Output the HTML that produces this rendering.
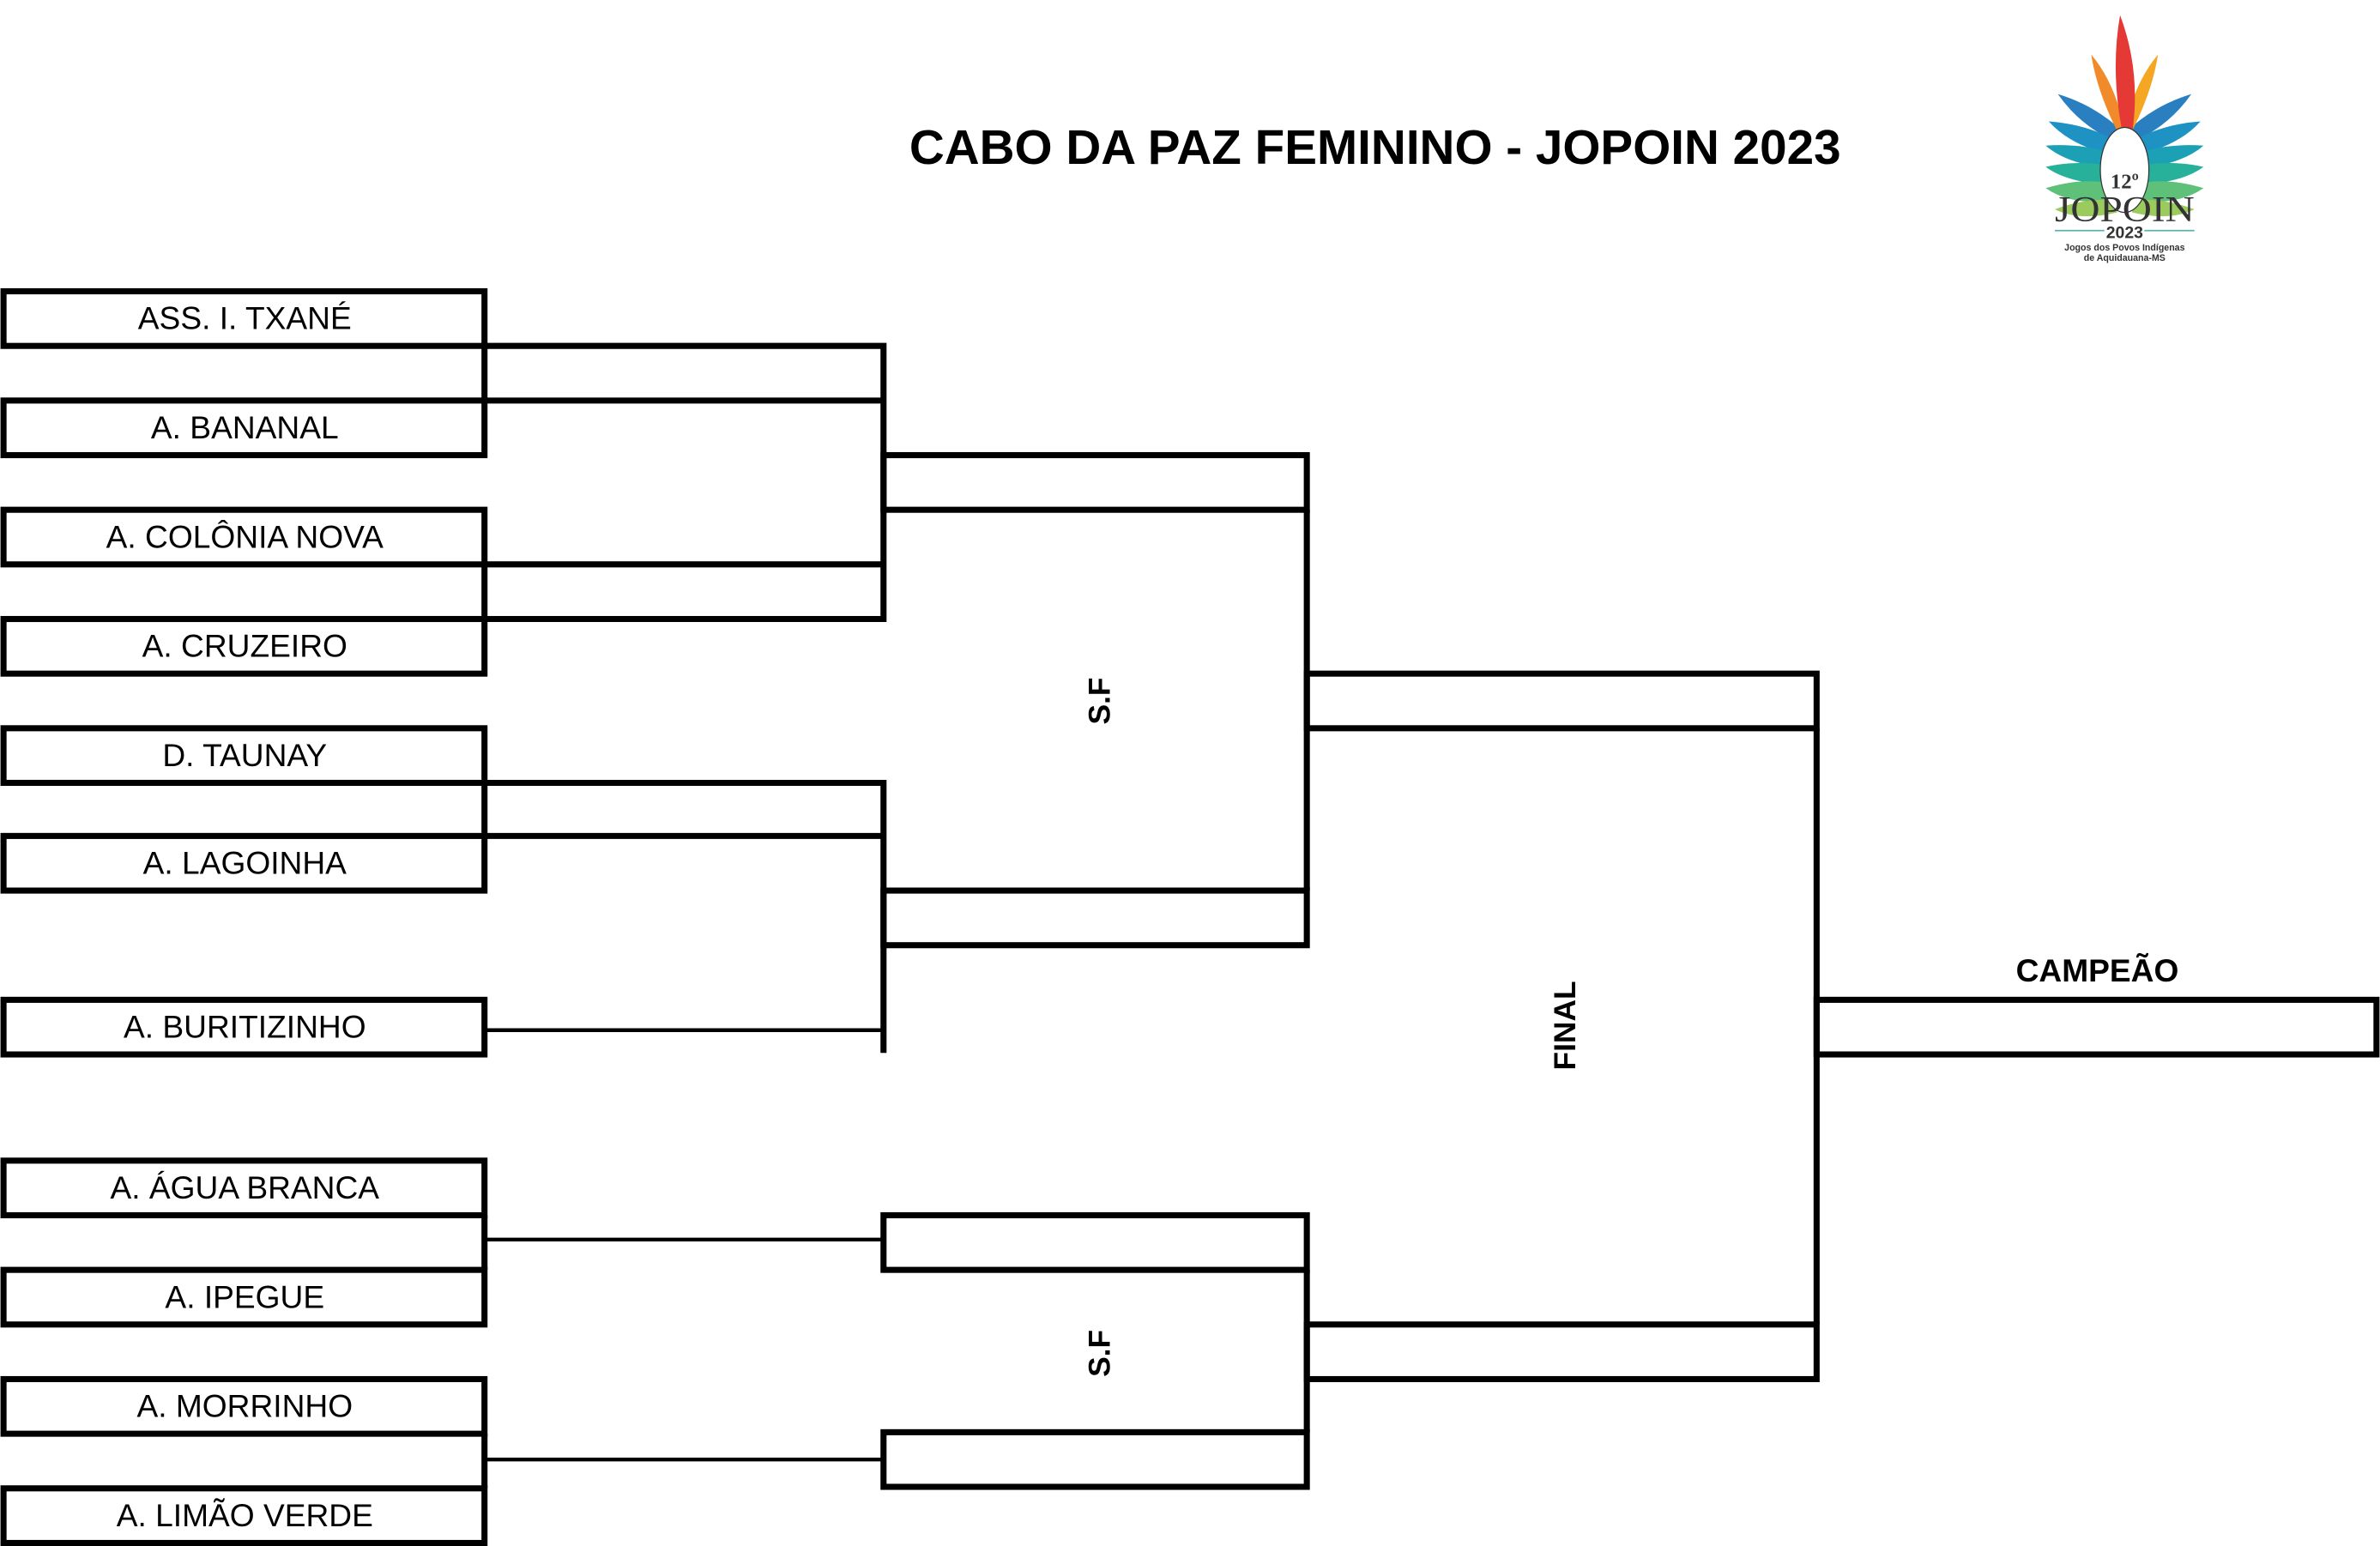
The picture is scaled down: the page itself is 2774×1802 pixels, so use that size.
<!DOCTYPE html>
<html><head><meta charset="utf-8"><style>html,body{margin:0;padding:0;background:#fff}svg{display:block}</style></head>
<body>
<svg width="2774" height="1802" viewBox="0 0 1568 1019" xmlns="http://www.w3.org/2000/svg" font-family="Liberation Sans, sans-serif">
<rect width="1568" height="1019" fill="#fff"/>
<text x="906" y="108" font-size="32" font-weight="bold" text-anchor="middle" textLength="614" lengthAdjust="spacingAndGlyphs">CABO DA PAZ FEMININO - JOPOIN 2023</text>
<g fill="none" stroke="#000" stroke-width="4">
<rect x="2" y="192" width="317" height="36"/>
<rect x="2" y="264" width="317" height="36"/>
<rect x="2" y="336" width="317" height="36"/>
<rect x="2" y="408" width="317" height="36"/>
<rect x="2" y="480" width="317" height="36"/>
<rect x="2" y="551" width="317" height="36"/>
<rect x="2" y="659" width="317" height="36"/>
<rect x="2" y="765" width="317" height="36"/>
<rect x="2" y="837" width="317" height="36"/>
<rect x="2" y="909" width="317" height="36"/>
<rect x="2" y="981" width="317" height="36"/>
<path d="M319 228V264M319 372V408M319 516V551M319 801V837M319 945V981"/>
<path d="M319 228H582V408H319M319 264H582M319 372H582"/>
<path d="M319 516H582V694M319 551H582"/>
<rect x="582" y="300" width="279" height="36"/>
<rect x="582" y="587" width="279" height="36"/>
<path d="M861 336V587"/>
<rect x="582" y="801" width="279" height="36"/>
<rect x="582" y="944" width="279" height="36"/>
<path d="M861 837V944"/>
<rect x="861" y="444" width="336" height="36"/>
<rect x="861" y="873" width="336" height="36"/>
<path d="M1197 480V873"/>
<rect x="1197" y="659" width="369" height="36"/>
</g>
<g stroke="#000" stroke-width="2.5">
<path d="M319 679H582M319 817H582M319 962H582"/>
</g>
<g font-size="21" text-anchor="middle">
<text x="161" y="217">ASS. I. TXANÉ</text>
<text x="161" y="289">A. BANANAL</text>
<text x="161" y="361">A. COLÔNIA NOVA</text>
<text x="161" y="433">A. CRUZEIRO</text>
<text x="161" y="505">D. TAUNAY</text>
<text x="161" y="576">A. LAGOINHA</text>
<text x="161" y="684">A. BURITIZINHO</text>
<text x="161" y="790">A. ÁGUA BRANCA</text>
<text x="161" y="862">A. IPEGUE</text>
<text x="161" y="934">A. MORRINHO</text>
<text x="161" y="1006">A. LIMÃO VERDE</text>
</g>
<text x="1382" y="647" font-size="21" font-weight="bold" text-anchor="middle">CAMPEÃO</text>
<text transform="translate(731,462) rotate(-90)" font-size="20" font-weight="bold" text-anchor="middle">S.F</text>
<text transform="translate(731,892) rotate(-90)" font-size="20" font-weight="bold" text-anchor="middle">S.F</text>
<text transform="translate(1038,676) rotate(-90)" font-size="20" font-weight="bold" text-anchor="middle">FINAL</text>
<g transform="translate(1400,0)">
<path d="M0 96 Q-28 85 -44 62 Q-18 70 0 88Z" fill="#2a7fc0"/>
<path d="M0 96 Q28 85 44 62 Q18 70 0 88Z" fill="#2a7fc0"/>
<path d="M0 104 Q-34 98 -50 80 Q-22 82 0 96Z" fill="#1f92c4"/>
<path d="M0 104 Q34 98 50 80 Q22 82 0 96Z" fill="#1f92c4"/>
<path d="M0 112 Q-36 110 -52 96 Q-24 94 0 104Z" fill="#1ca0b5"/>
<path d="M0 112 Q36 110 52 96 Q24 94 0 104Z" fill="#1ca0b5"/>
<path d="M0 122 Q-36 122 -52 110 Q-25 104 0 112Z" fill="#27b09a"/>
<path d="M0 122 Q36 122 52 110 Q25 104 0 112Z" fill="#27b09a"/>
<path d="M-5 132 Q-35 136 -52 124 Q-25 116 -5 122Z" fill="#5fc07a"/>
<path d="M5 132 Q35 136 52 124 Q25 116 5 122Z" fill="#5fc07a"/>
<path d="M-5 140 Q-30 146 -46 138 Q-25 130 -5 132Z" fill="#9acb5c"/>
<path d="M5 140 Q30 146 46 138 Q25 130 5 132Z" fill="#9acb5c"/>
<path d="M-2 92 Q-18 62 -22 36 Q-6 55 0 86Z" fill="#f08a2a"/>
<path d="M2 92 Q18 62 22 36 Q6 55 0 86Z" fill="#f5a623"/>
<path d="M0 94 Q-10 50 -3 10 Q12 50 4 94Z" fill="#e53935"/>
<ellipse cx="0" cy="112" rx="16" ry="28" fill="#fff" stroke="#333" stroke-width="0.7"/>
<text x="0" y="124" font-size="14" font-family="Liberation Serif, serif" text-anchor="middle" font-weight="bold" fill="#333">12º</text>
<text x="0" y="146" font-size="24" font-family="Liberation Serif, serif" text-anchor="middle" fill="#333" textLength="92" lengthAdjust="spacingAndGlyphs">JOPOIN</text>
<line x1="-46" y1="152" x2="46" y2="152" stroke="#5fb0b0" stroke-width="1"/>
<text x="0" y="157" font-size="11" text-anchor="middle" font-weight="bold" fill="#333" stroke="#fff" stroke-width="3" paint-order="stroke">2023</text>
<text x="0" y="165" font-size="6" text-anchor="middle" font-weight="bold" fill="#333">Jogos dos Povos Indígenas</text>
<text x="0" y="172" font-size="6" text-anchor="middle" font-weight="bold" fill="#333">de Aquidauana-MS</text>
</g>
</svg>
</body></html>
